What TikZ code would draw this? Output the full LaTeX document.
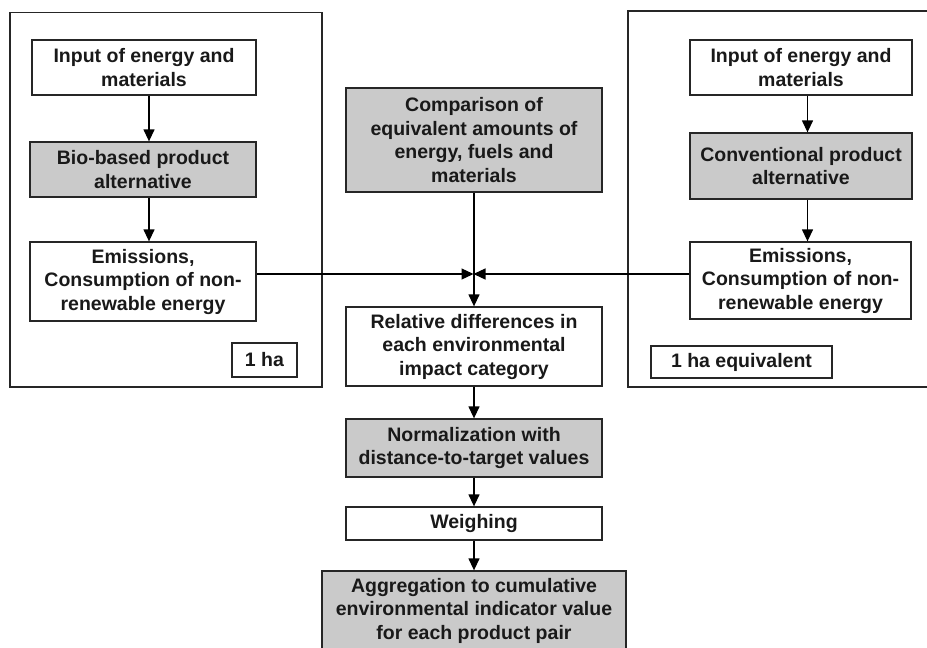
\documentclass[tikz,border=0pt]{standalone}
\usepackage{fontspec}
\usepackage{tikz}
\usetikzlibrary{arrows.meta}
\newfontfamily\boxfont{Liberation Sans}
\definecolor{box_gray}{HTML}{CACACA}
\definecolor{line_gray}{HTML}{262626}

\tikzset{
    box/.style={draw=line_gray, line width=1.3pt, fill=white, align=center, inner sep=0pt,
        text=black!90, font=\boxfont\bfseries\fontsize{19.5}{23.5}\selectfont},
    graybox/.style={box, fill=box_gray},
    frame/.style={draw=line_gray, line width=1.3pt},
    arr/.style={draw=black, line width=1.3pt, -{Triangle[length=12pt,width=11pt]}},
    link/.style={draw=black, line width=1.3pt}
}

\begin{document}
\begin{tikzpicture}[x=1pt,y=-1pt]
        \clip (0,0) rectangle (927,648);
        \fill[white] (0,0) rectangle (927,648);
        % Cadres
        \draw[frame] (10,12.5) rectangle (322,387);
        \draw[frame] (628,11) rectangle (940,387);

        % Colonne gauche
        \node[box, minimum width=224, minimum height=55] (inL) at (144,67.5) {Input of energy and\\materials};
        \node[graybox, minimum width=226, minimum height=55] (bioL) at (143,169.5) {Bio-based product\\alternative};
        \node[box, minimum width=226, minimum height=79] (emL) at (143,281.5) {Emissions,\\Consumption of non-\\renewable energy};
        \node[box, minimum width=65, minimum height=34] (haL) at (264.5,360) {1 ha};

        % Colonne droite
        \node[box, minimum width=222, minimum height=55] (inR) at (801,67.5) {Input of energy and\\materials};
        \node[graybox, minimum width=222, minimum height=66] (convR) at (801,166) {Conventional product\\alternative};
        \node[box, minimum width=221, minimum height=77] (emR) at (800.5,280.5) {Emissions,\\Consumption of non-\\renewable energy};
        \node[box, minimum width=181, minimum height=32] (haR) at (741.5,362) {1 ha equivalent};

        % Colonne centrale
        \node[graybox, minimum width=256, minimum height=104] (cmp) at (474,140) {Comparison of\\equivalent amounts of\\energy, fuels and\\materials};
        \node[box, minimum width=256, minimum height=79] (rel) at (474,346.5) {Relative differences in\\each environmental\\impact category};
        \node[graybox, minimum width=256, minimum height=58] (nrm) at (474,448) {Normalization with\\distance-to-target values};
        \node[box, minimum width=256, minimum height=33] (wgh) at (474,523.5) {Weighing};
        \node[graybox, minimum width=304, minimum height=79] (agg) at (474,610.5) {Aggregation to cumulative\\environmental indicator value\\for each product pair};

        % Fleches
        \coordinate (aL) at ([xshift=5pt]inL.south);
        \coordinate (aR) at ([xshift=6.5pt]inR.south);
        \draw[arr] (aL) -- (aL |- bioL.north);
        \draw[arr] (aL |- bioL.south) -- (aL |- emL.north);
        \draw[arr] (aR) -- (aR |- convR.north);
        \draw[arr] (aR |- convR.south) -- (aR |- emR.north);

        % Jonction
        \coordinate (jn) at (473.5,274);
        \draw[arr] (emL.east |- jn) -- (jn);
        \draw[arr] (emR.west |- jn) -- (jn);
        \draw[arr] (cmp.south) -- (rel.north);

        \draw[arr] (rel.south) -- (nrm.north);
        \draw[arr] (nrm.south) -- (wgh.north);
        \draw[arr] (wgh.south) -- (agg.north);
    \end{tikzpicture}
\end{document}
